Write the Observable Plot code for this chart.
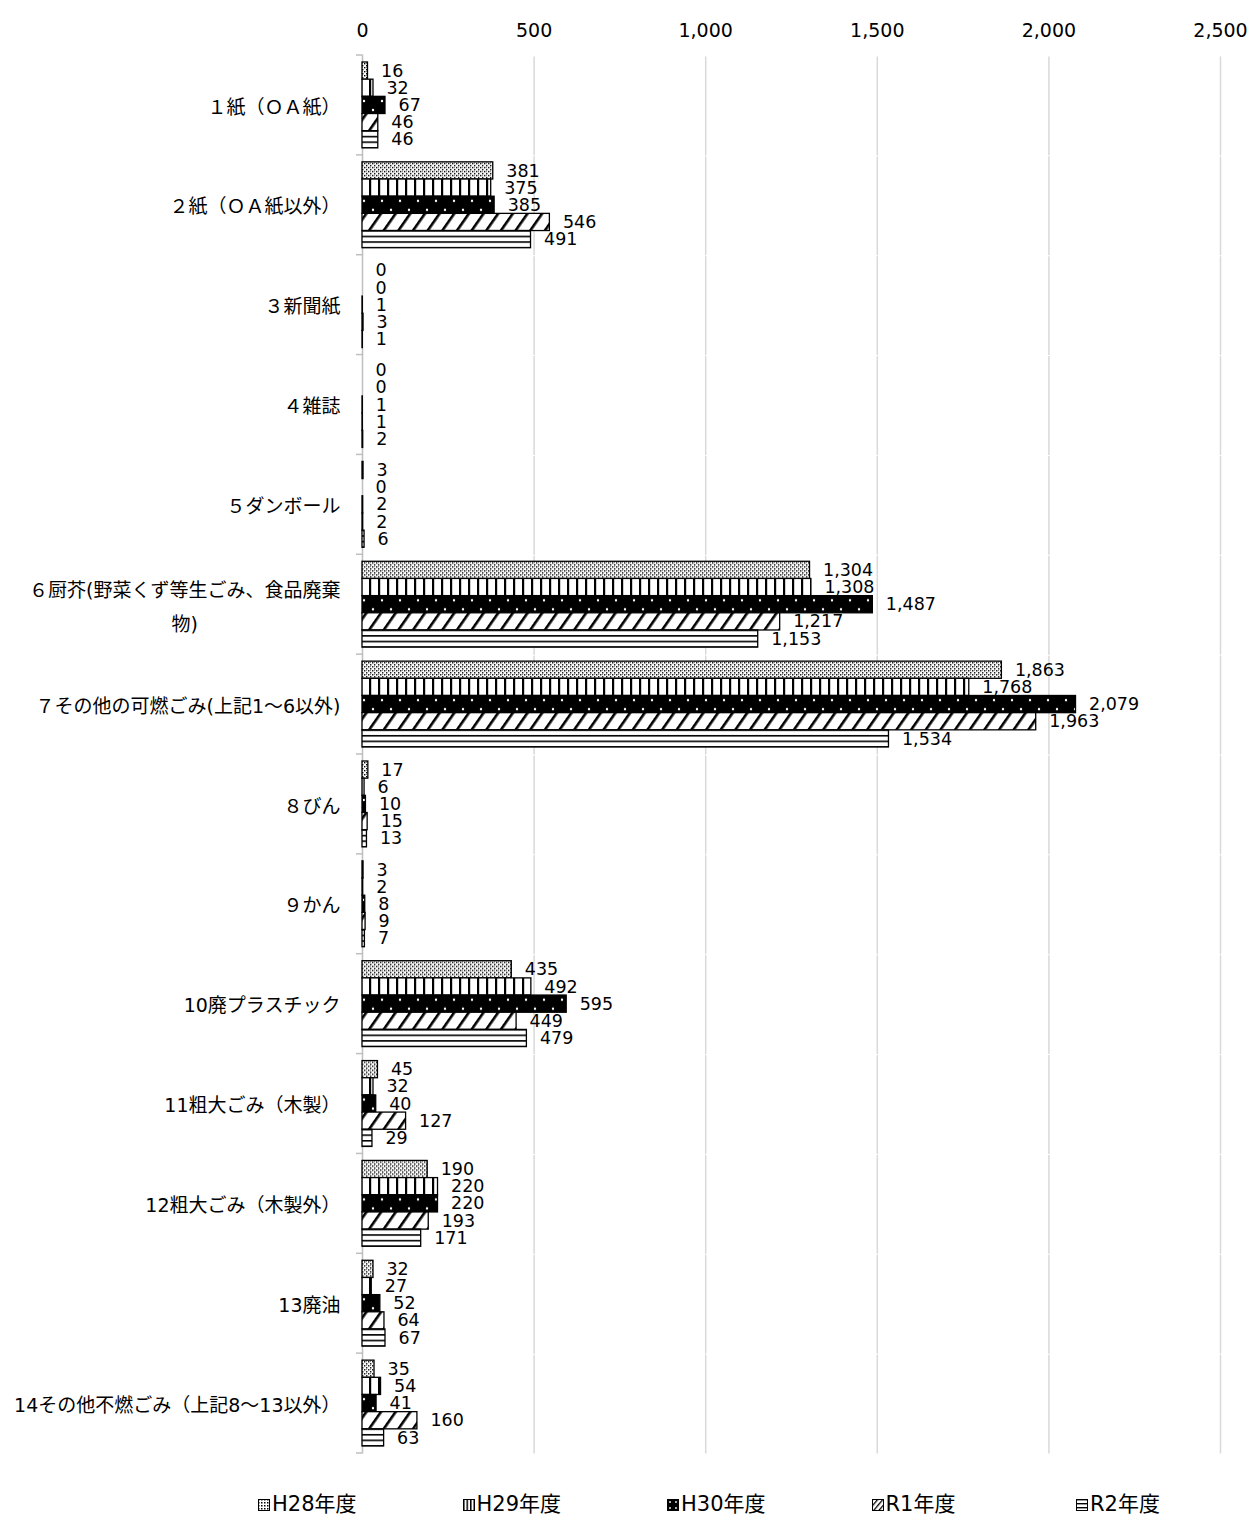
<!DOCTYPE html>
<html><head><meta charset="utf-8">
<script src="https://cdn.jsdelivr.net/npm/d3@7"></script>
<script src="https://cdn.jsdelivr.net/npm/@observablehq/plot@0.6"></script>
<style>
body{margin:0;background:#fff;font-family:"DejaVu Sans","Noto Sans CJK JP",sans-serif;}
#wrap{position:relative;width:1253px;}
#legend{position:relative;height:52px;}
.item{position:absolute;top:29px;display:flex;align-items:center;font-size:21px;color:#000;line-height:25px;}
.item svg{margin-right:2px;}
</style></head><body><div id="wrap"><div id="chart"></div><div id="legend"></div></div>
<script>
const categories = ["１紙（ＯＡ紙）","２紙（ＯＡ紙以外）","３新聞紙","４雑誌","５ダンボール","６厨芥(野菜くず等生ごみ、食品廃棄物)","７その他の可燃ごみ(上記1～6以外)","８びん","９かん","10廃プラスチック","11粗大ごみ（木製）","12粗大ごみ（木製外）","13廃油","14その他不燃ごみ（上記8～13以外）"];
const categoryLabels = ["１紙（ＯＡ紙）","２紙（ＯＡ紙以外）","３新聞紙","４雑誌","５ダンボール","６厨芥(野菜くず等生ごみ、食品廃棄\n物)","７その他の可燃ごみ(上記1～6以外)","８びん","９かん","10廃プラスチック","11粗大ごみ（木製）","12粗大ごみ（木製外）","13廃油","14その他不燃ごみ（上記8～13以外）"];
const series = ["H28年度","H29年度","H30年度","R1年度","R2年度"];
const h28 = [16, 381, 0, 0, 3, 1304, 1863, 17, 3, 435, 45, 190, 32, 35];
const h29 = [32, 375, 0, 0, 0, 1308, 1768, 6, 2, 492, 32, 220, 27, 54];
const h30 = [67, 385, 1, 1, 2, 1487, 2079, 10, 8, 595, 40, 220, 52, 41];
const r1  = [46, 546, 3, 1, 2, 1217, 1963, 15, 9, 449, 127, 193, 64, 160];
const r2  = [46, 491, 1, 2, 6, 1153, 1534, 13, 7, 479, 29, 171, 67, 63];
const xTicks = [0, 500, 1000, 1500, 2000, 2500];
const patternIds = ["pH28","pH29","pH30","pR1","pR2"];

const seriesValues = [h28, h29, h30, r1, r2];
const data = categories.flatMap((c, i) => series.map((s, j) => ({category: c, series: s, value: seriesValues[j][i]})));
const labelOf = new Map(categories.map((c, i) => [c, categoryLabels[i]]));
const fmt = d3.format(",");
const font = '"DejaVu Sans","Noto Sans CJK JP",sans-serif';
const catFont = 19;

const ctx = document.createElement("canvas").getContext("2d");
ctx.font = `${catFont}px ${font}`;
const wrapped = categories.filter(c => labelOf.get(c).includes("\n"));
const plain = categories.filter(c => !labelOf.get(c).includes("\n"));
const wrapMarks = wrapped.map(c => {
  const w = Math.max(...labelOf.get(c).split("\n").map(t => ctx.measureText(t).width));
  return Plot.text([c], {fy: d => d, text: d => labelOf.get(d), frameAnchor: "left", textAnchor: "middle", dx: -22 - w / 2, dy: -2, fontSize: catFont, lineHeight: 1.8, fill: "#000"});
});

const padIn = 0.14, padOut = 0.07;
const gap = 7.5;
const chart = Plot.plot({
  width: 1253, height: 1463,
  marginTop: 55, marginLeft: 362, marginRight: 33, marginBottom: 10,
  style: {fontFamily: font, background: "#fff", color: "#000"},
  x: {domain: [0, 2500], axis: null},
  fy: {domain: categories, paddingInner: padIn, paddingOuter: padOut, round: false, axis: null},
  y: {domain: series, padding: 0, round: false, axis: null},
  color: {type: "ordinal", domain: series, range: patternIds.map(id => `url(#${id})`)},
  marks: [
    Plot.ruleX(xTicks.slice(1), {x: d => d, stroke: "#d9d9d9", strokeWidth: 1.5, insetTop: -gap + 2, insetBottom: -gap}),
    Plot.ruleX([0], {x: d => d, stroke: "#bfbfbf", strokeWidth: 1.5, insetTop: -gap, insetBottom: -gap}),
    Plot.axisX({anchor: "top", ticks: xTicks, tickSize: 0, tickPadding: 25, fontSize: 19, tickFormat: fmt, label: null}),
    Plot.barX(data, {fy: "category", y: "series", x: "value", fill: "series", stroke: "#000", strokeWidth: 1.3}),
    Plot.text(data, {fy: "category", y: "series", x: "value", text: d => fmt(d.value), dx: 13, textAnchor: "start", fontSize: 17.5, fill: "#000"}),
    Plot.text(plain, {fy: d => d, text: d => labelOf.get(d), frameAnchor: "left", textAnchor: "end", dx: -22, dy: 2, fontSize: catFont, fill: "#000"}),
    ...wrapMarks
  ]
});

const defsMarkup = `
<pattern id="pH28" width="4" height="4" patternUnits="userSpaceOnUse">
  <rect width="4" height="4" fill="#fff"/>
  <rect x="0" y="0" width="1.4" height="1.4" fill="#000"/>
  <rect x="2" y="2" width="1.4" height="1.4" fill="#000"/>
  <rect x="2" y="0" width="1" height="1" fill="#888"/>
</pattern>
<pattern id="pH29" width="9" height="10" patternUnits="userSpaceOnUse">
  <rect width="9" height="10" fill="#fff"/>
  <rect x="0" y="0" width="2.2" height="10" fill="#000"/>
</pattern>
<pattern id="pH30" width="18" height="18" patternUnits="userSpaceOnUse">
  <rect width="18" height="18" fill="#000"/>
  <circle cx="4" cy="4" r="1.2" fill="#fff"/>
  <circle cx="13" cy="13" r="1.2" fill="#fff"/>
</pattern>
<pattern id="pR1" width="12" height="12" patternUnits="userSpaceOnUse" patternTransform="rotate(35)">
  <rect width="12" height="12" fill="#fff"/>
  <rect x="0" y="0" width="2.6" height="12" fill="#000"/>
</pattern>
<pattern id="pR2" width="10" height="5.6" patternUnits="userSpaceOnUse">
  <rect width="10" height="5.6" fill="#fff"/>
  <rect x="0" y="0" width="10" height="1.6" fill="#000"/>
</pattern>
<pattern id="sH28" width="3" height="3" patternUnits="userSpaceOnUse">
  <rect width="3" height="3" fill="#fff"/>
  <rect x="0" y="0" width="1.5" height="1.5" fill="#000"/>
</pattern>
<pattern id="sH29" width="3.5" height="10" patternUnits="userSpaceOnUse">
  <rect width="3.5" height="10" fill="#fff"/>
  <rect x="0" y="0" width="1.5" height="10" fill="#000"/>
</pattern>
<pattern id="sH30" width="6" height="6" patternUnits="userSpaceOnUse">
  <rect width="6" height="6" fill="#000"/>
  <circle cx="3" cy="3" r="0.9" fill="#fff"/>
</pattern>
<pattern id="sR1" width="4" height="4" patternUnits="userSpaceOnUse" patternTransform="rotate(40)">
  <rect width="4" height="4" fill="#fff"/>
  <rect x="0" y="0" width="1.3" height="4" fill="#000"/>
</pattern>
<pattern id="sR2" width="10" height="4" patternUnits="userSpaceOnUse">
  <rect width="10" height="4" fill="#fff"/>
  <rect x="0" y="0" width="10" height="1.4" fill="#000"/>
</pattern>`;
const defs = document.createElementNS("http://www.w3.org/2000/svg", "defs");
defs.innerHTML = defsMarkup;
chart.insertBefore(defs, chart.firstChild);

// category-axis tick marks at group boundaries, placed with the library's fy scale
const fyScale = chart.scale("fy");
const step = fyScale.step ?? (fyScale.bandwidth / (1 - padIn));
const bounds = categories.map(c => fyScale.apply(c) - padIn * step / 2);
const lastC = categories[categories.length - 1];
bounds.push(fyScale.apply(lastC) + fyScale.bandwidth + padIn * step / 2);
const x0 = chart.scale("x").apply(0);
const tg = d3.select(chart).append("g").attr("stroke", "#bfbfbf").attr("stroke-width", 1.5);
bounds.forEach(b => tg.append("line").attr("x1", x0 - 6).attr("x2", x0).attr("y1", b).attr("y2", b));

document.getElementById("chart").appendChild(chart);

const legend = d3.select("#legend");
series.forEach((s, i) => {
  const item = legend.append("div").attr("class", "item").style("left", `${258 + i * 204.5}px`);
  const sw = item.append("svg").attr("width", 12).attr("height", 12);
  sw.append("rect").attr("x", 0.5).attr("y", 0.5).attr("width", 11).attr("height", 11)
    .attr("fill", `url(#${patternIds[i].replace("p", "s")})`).attr("stroke", "#000").attr("stroke-width", 1);
  item.append("span").text(s);
});
</script>
</body></html>
